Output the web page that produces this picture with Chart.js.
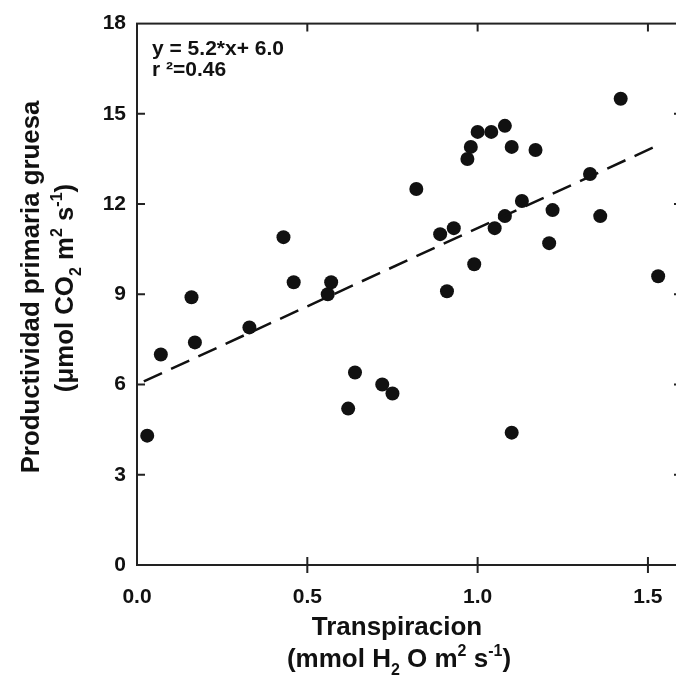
<!DOCTYPE html>
<html>
<head>
<meta charset="utf-8">
<script src="https://cdn.jsdelivr.net/npm/chart.js@4.4.0/dist/chart.umd.min.js"></script>
<style>
  html, body { margin: 0; padding: 0; background: #fff; overflow: hidden; }
  #wrap { width: 690px; height: 677px; }
</style>
</head>
<body>
<div id="wrap"><canvas id="scatter" width="690" height="677"></canvas></div>
<script>
// transpiration (mmol H2O m-2 s-1) vs gross primary productivity (umol CO2 m-2 s-1)
const transpiration = [0.03, 0.07, 0.17, 0.16, 0.33, 0.43, 0.46, 0.56, 0.57, 0.82, 0.89, 0.93, 0.99, 0.91,
  0.97, 0.98, 1.00, 1.04, 1.08, 1.10, 1.17, 1.05, 1.08, 1.13, 1.22, 1.21, 1.33, 1.36, 1.42, 1.53,
  0.64, 0.62, 0.72, 0.75, 1.10];
const productivity = [4.3, 7.0, 7.4, 8.9, 7.9, 10.9, 9.4, 9.0, 9.4, 12.5, 11.0, 11.2, 10.0, 9.1,
  13.5, 13.9, 14.4, 14.4, 14.6, 13.9, 13.8, 11.2, 11.6, 12.1, 11.8, 10.7, 13.0, 11.6, 15.5, 9.6,
  6.4, 5.2, 6.0, 5.7, 4.4];
const xTicks = [0, 0.5, 1.0, 1.5];
const yTicks = [0, 3, 6, 9, 12, 15, 18];

// fitted line: y = 5.2*x + 6.0
const slope = 5.2;
const intercept = 6.0;
const fitX = [0.02, 1.53];

const FONT = '"Liberation Sans", Arial, sans-serif';
const INK = '#111';

const points = transpiration.map((x, i) => ({ x: x, y: productivity[i] }));
const fitLine = fitX.map(x => ({ x: x, y: slope * x + intercept }));

// text with sub/superscript pieces, centred on (x, y) baseline
function drawRich(ctx, parts, x, y, size) {
  const small = Math.round(size * 0.62);
  let total = 0;
  parts.forEach(p => {
    ctx.font = 'bold ' + (p.sub || p.sup ? small : size) + 'px ' + FONT;
    p.w = ctx.measureText(p.t).width;
    total += p.w;
  });
  let cx = x - total / 2;
  parts.forEach(p => {
    ctx.font = 'bold ' + (p.sub || p.sup ? small : size) + 'px ' + FONT;
    let dy = 0;
    if (p.sub) dy = size * 0.32;
    if (p.sup) dy = -size * 0.42;
    ctx.fillText(p.t, cx, y + dy);
    cx += p.w;
  });
}

const framePlugin = {
  id: 'frame',
  afterDatasetsDraw(chart) {
    const { ctx, chartArea: a, scales } = chart;
    const xs = scales.x, ys = scales.y;
    ctx.save();
    ctx.strokeStyle = '#222';
    ctx.lineWidth = 2;
    ctx.strokeRect(a.left, a.top, a.right - a.left, a.bottom - a.top);
    const tl = 8;
    ctx.beginPath();
    yTicks.forEach(v => {
      const py = ys.getPixelForValue(v);
      if (v === 0 || v === 18) return;
      ctx.moveTo(a.left, py); ctx.lineTo(a.left + tl, py);
      ctx.moveTo(a.right, py); ctx.lineTo(a.right - tl, py);
    });
    xTicks.forEach(v => {
      if (v === 0) return;
      const px = xs.getPixelForValue(v);
      ctx.moveTo(px, a.top); ctx.lineTo(px, a.top + tl);
      ctx.moveTo(px, a.bottom - tl); ctx.lineTo(px, a.bottom + tl);
    });
    ctx.stroke();
    ctx.restore();
  },
  afterDraw(chart) {
    const { ctx } = chart;
    ctx.save();
    ctx.fillStyle = INK;
    ctx.textBaseline = 'alphabetic';
    ctx.textAlign = 'left';

    // regression annotation
    ctx.font = 'bold 21px ' + FONT;
    ctx.fillText('y = 5.2*x+ 6.0', 152, 55);
    ctx.fillText('r \u00b2=0.46', 152, 76);

    // x axis title
    drawRich(ctx, [{ t: 'Transpiracion' }], 397, 635, 26);
    drawRich(ctx, [{ t: '(mmol H' }, { t: '2', sub: true }, { t: ' O m' }, { t: '2', sup: true },
      { t: ' s' }, { t: '-1', sup: true }, { t: ')' }], 399, 667, 26);

    // y axis title, rotated
    ctx.save();
    ctx.translate(39, 287);
    ctx.rotate(-Math.PI / 2);
    drawRich(ctx, [{ t: 'Productividad primaria gruesa' }], 0, 0, 25.8);
    ctx.restore();
    ctx.save();
    ctx.translate(73, 288);
    ctx.rotate(-Math.PI / 2);
    drawRich(ctx, [{ t: '(\u03bcmol CO' }, { t: '2', sub: true }, { t: ' m' }, { t: '2', sup: true },
      { t: ' s' }, { t: '-1', sup: true }, { t: ')' }], 0, 0, 25.8);
    ctx.restore();
    ctx.restore();
  }
};

new Chart(document.getElementById('scatter'), {
  type: 'scatter',
  data: {
    datasets: [
      {
        type: 'line',
        data: fitLine,
        borderColor: INK,
        borderWidth: 2.5,
        borderDash: [20, 10],
        pointRadius: 0,
        fill: false
      },
      {
        data: points,
        pointRadius: 7,
        pointHoverRadius: 7,
        backgroundColor: INK,
        borderWidth: 0
      }
    ]
  },
  options: {
    responsive: false,
    animation: false,
    events: [],
    layout: { padding: { left: 0, top: 18, right: 8, bottom: 0 } },
    plugins: { legend: { display: false }, tooltip: { enabled: false } },
    scales: {
      x: {
        type: 'linear',
        min: 0,
        max: 1.6,
        afterBuildTicks: s => { s.ticks = xTicks.map(v => ({ value: v })); },
        afterFit: s => { s.height = 112; },
        grid: { display: false, drawTicks: false },
        border: { display: false },
        ticks: {
          color: INK,
          padding: 20,
          maxRotation: 0,
          font: { family: FONT, size: 21, weight: 'bold' },
          callback: v => Number(v).toFixed(1)
        }
      },
      y: {
        min: 0,
        max: 18,
        afterBuildTicks: s => { s.ticks = yTicks.map(v => ({ value: v })); },
        afterFit: s => { s.width = 137; },
        grid: { display: false, drawTicks: false },
        border: { display: false },
        ticks: {
          color: INK,
          padding: 11,
          font: { family: FONT, size: 21, weight: 'bold' },
          callback: v => String(v)
        }
      }
    }
  },
  plugins: [framePlugin]
});
</script>
</body>
</html>
